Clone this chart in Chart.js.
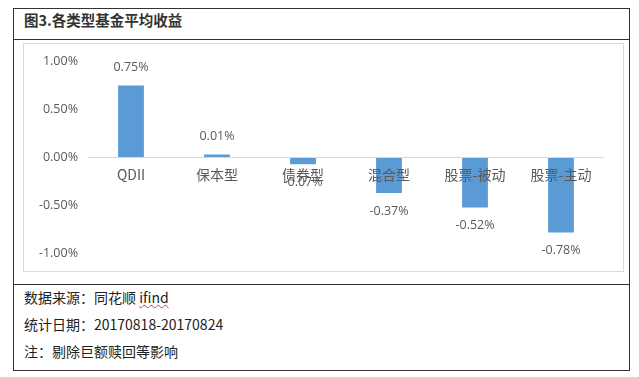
<!DOCTYPE html>
<html>
<head>
<meta charset="utf-8">
<script src="https://cdn.jsdelivr.net/npm/chart.js@4"></script>
<style>
    body { margin: 0; background: #fff; font-family: "Noto Sans CJK SC", sans-serif; }
    #box { position: absolute; left: 13px; top: 8px; width: 615px; height: 361px; border: 1.5px solid #333; }
    #title { position: absolute; left: 0; top: 0; width: 615px; height: 31px; border-bottom: 1.5px solid #333;
        font-size: 14.5px; font-weight: bold; color: #333; line-height: 22px; padding-left: 10px; box-sizing: border-box; }
    #chartBox { position: absolute; left: 9px; top: 34px; width: 599px; height: 227px; border: 1px solid #d9d9d9; }
    #foot { position: absolute; left: 0; top: 275px; width: 615px; height: 86px; border-top: 1.5px solid #333; }
    .line { position: absolute; left: 10px; font-size: 14px; color: #222; }
    .spell { text-decoration: underline wavy #d04040; text-decoration-thickness: 1px; }
</style>
</head>
<body>
<div id="box">
    <div id="title">图3.各类型基金平均收益</div>
    <div id="chartBox"><canvas id="myChart" width="599" height="227"></canvas></div>
    <div id="foot">
        <div class="line" style="top:2px">数据来源：同花顺 <span class="spell">ifind</span></div>
        <div class="line" style="top:29px">统计日期：20170818-20170824</div>
        <div class="line" style="top:56px">注：剔除巨额赎回等影响</div>
    </div>
</div>
<script>
const categories = ["QDII", "保本型", "债券型", "混合型", "股票-被动", "股票-主动"];
const returns = [0.75, 0.01, -0.07, -0.37, -0.52, -0.78];
const returnLabels = ["0.75%", "0.01%", "-0.07%", "-0.37%", "-0.52%", "-0.78%"];

const textColor = "#595959";

// category names sit just under the zero line, data labels above / below bars
const labelsPlugin = {
    id: "labelsPlugin",
    afterDatasetsDraw: (chart) => {
        const ctx = chart.ctx;
        const x = chart.scales.x;
        const y = chart.scales.y;
        const zero = y.getPixelForValue(0);
        const bars = chart.getDatasetMeta(0).data;

        ctx.save();
        ctx.textAlign = "center";
        ctx.textBaseline = "middle";
        ctx.fillStyle = textColor;
        ctx.font = "14px 'Noto Sans CJK SC'";
        for (let i = 0; i < categories.length; i++) {
            ctx.fillText(categories[i], x.getPixelForValue(i), zero + 17);
        }
        ctx.font = "12.5px 'Open Sans'";
        for (let i = 0; i < bars.length; i++) {
            const bar = bars[i];
            const off = returns[i] >= 0 ? -18 : 18;
            ctx.fillText(returnLabels[i], bar.x, bar.y + off);
        }
        ctx.restore();
    }
};

const ctx = document.getElementById("myChart").getContext("2d");
const myChart = new Chart(ctx, {
    type: "bar",
    data: {
        labels: categories,
        datasets: [{
            data: returns,
            backgroundColor: "#5b9bd5",
            categoryPercentage: 1,
            barPercentage: 0.3,
            minBarLength: 3
        }]
    },
    options: {
        responsive: false,
        animation: false,
        layout: { padding: { left: 0, right: 19, top: 14, bottom: 17 } },
        plugins: { legend: { display: false }, tooltip: { enabled: false } },
        scales: {
            x: { display: false },
            y: {
                min: -1,
                max: 1,
                afterFit: (scale) => { scale.width = 64; },
                border: { display: false },
                grid: {
                    drawTicks: false,
                    color: (c) => c.tick && c.tick.value === 0 ? "#d9d9d9" : "rgba(0,0,0,0)"
                },
                ticks: {
                    stepSize: 0.5,
                    padding: 10,
                    color: textColor,
                    font: { family: "Open Sans", size: 12.5 },
                    callback: (v) => v.toFixed(2) + "%"
                }
            }
        }
    },
    plugins: [labelsPlugin]
});
</script>
</body>
</html>
